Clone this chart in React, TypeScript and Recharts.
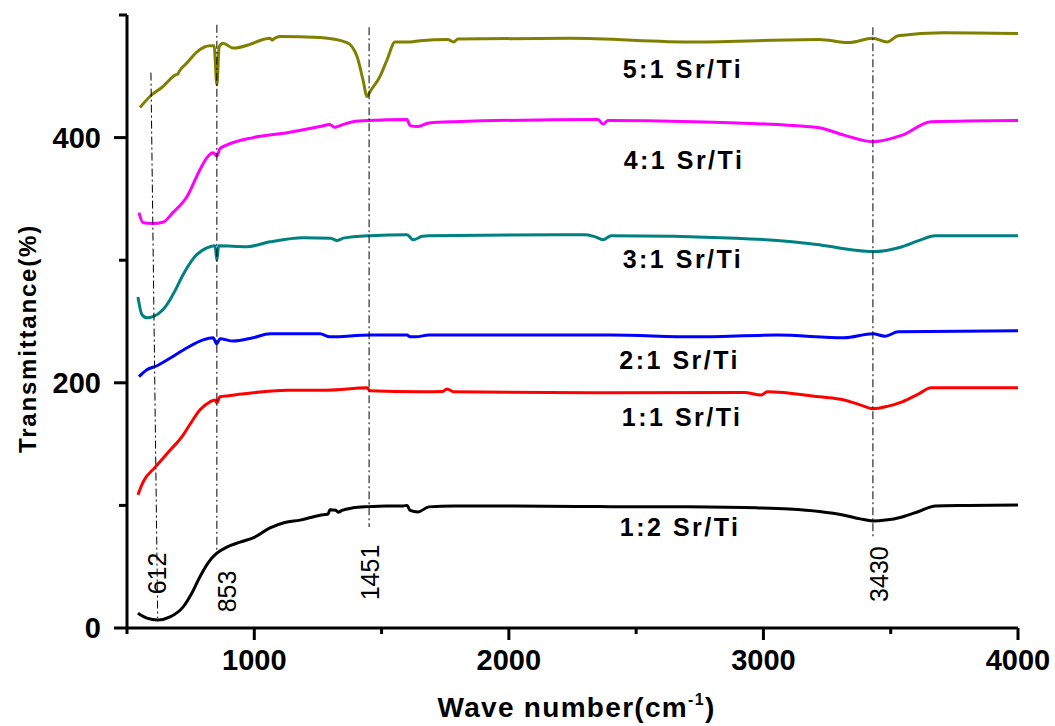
import React from 'react';
import { LineChart, Line, XAxis, YAxis, ReferenceLine, ReferenceDot } from 'recharts';

const FONT = '"Liberation Sans", Arial, sans-serif';

// ---- data: [wavenumber (cm-1), transmittance (%)] ----
const s12: [number, number][] = [
  [543, 12], [578, 8], [622, 6.5], [669, 9], [720, 17], [755, 28.5], [787, 42], [818, 53], [853, 61],
  [892, 66], [944, 70], [1000, 74], [1062, 81.6], [1120, 86], [1180, 88], [1258, 92], [1290, 93],
  [1297, 96.5], [1320, 96], [1330, 94.5], [1345, 96], [1388, 98], [1447, 99], [1520, 99.6], [1585, 99.6],
  [1600, 100], [1612, 96], [1643, 94.7], [1686, 98.8], [1783, 99.6], [2000, 99.5], [2402, 99], [2700, 98.8],
  [2973, 98], [3100, 97], [3219, 95], [3317, 92], [3380, 89], [3430, 87.3], [3480, 88], [3545, 90.6],
  [3610, 95], [3675, 99.6], [3800, 100], [4000, 100.4],
];
const s11: [number, number][] = [
  [543, 108.6], [563, 119], [610, 131], [669, 145], [716, 156], [747, 166], [787, 178], [826, 184.5],
  [845, 186], [853, 183.7], [865, 188.6], [900, 189.5], [995, 191.8], [1129, 194], [1286, 194], [1443, 195.9],
  [1455, 193.5], [1651, 192.7], [1740, 193], [1757, 195], [1783, 192.7], [2402, 191.8], [2925, 192],
  [2991, 190], [3015, 192.7], [3219, 188.6], [3317, 186], [3380, 182], [3430, 178.8], [3490, 181],
  [3545, 184.5], [3610, 191], [3659, 195.9], [4000, 195.9],
];
const s21: [number, number][] = [
  [547, 205], [578, 210.6], [618, 213.9], [669, 220], [736, 228.6], [799, 235], [838, 236.7], [853, 231.8],
  [865, 236], [917, 234], [995, 236.7], [1062, 240], [1258, 240], [1297, 237.5], [1455, 239], [1600, 239],
  [1612, 237.5], [1636, 237.5], [1686, 239], [2402, 239], [2728, 237.5], [3054, 239], [3317, 236.7],
  [3430, 240], [3478, 238], [3529, 241.6], [4000, 242.4],
];
const s31: [number, number][] = [
  [543, 270], [559, 255.5], [578, 253], [602, 254], [641, 259.6], [669, 267.8], [696, 278], [716, 286.5],
  [736, 293.9], [767, 303], [814, 310], [846, 311.8], [853, 300], [860, 311.8], [971, 311], [1062, 315],
  [1192, 318.4], [1300, 318], [1325, 316], [1350, 318], [1455, 320], [1600, 320.8], [1624, 316.7],
  [1660, 319.5], [1686, 320], [2303, 320.8], [2340, 319], [2370, 316.7], [2402, 320], [2893, 318],
  [3219, 312.6], [3345, 308.6], [3430, 307], [3545, 311], [3610, 316], [3675, 320], [4000, 320],
];
const s41: [number, number][] = [
  [547, 338.8], [563, 330.6], [602, 330], [641, 331], [681, 339], [736, 352], [787, 374], [814, 383.7],
  [838, 387.7], [853, 385], [865, 391], [893, 394], [995, 400], [1129, 404], [1258, 409], [1297, 410.6],
  [1315, 408.5], [1340, 410], [1388, 413], [1451, 414], [1600, 414.7], [1612, 409.8], [1643, 409],
  [1686, 412], [1783, 413], [2350, 414.7], [2370, 411], [2390, 414], [2728, 413], [3054, 410.6],
  [3219, 408], [3317, 402], [3430, 396.7], [3545, 402], [3659, 413], [4000, 414],
];
const s51: [number, number][] = [
  [551, 424.5], [590, 433.5], [641, 441.6], [689, 451], [700, 452], [705, 454], [736, 461], [775, 470],
  [826, 475], [842, 475], [853, 443], [862, 474], [877, 477], [917, 473], [983, 476], [1034, 480],
  [1062, 481], [1070, 479.5], [1080, 481], [1101, 482.5], [1258, 481.6], [1364, 477.5], [1404, 466],
  [1427, 447], [1443, 433.5], [1455, 437.6], [1494, 450], [1522, 463.7], [1553, 478], [1612, 478],
  [1651, 479], [1760, 480], [1783, 478], [1800, 480.5], [2240, 481], [2728, 478], [3219, 480],
  [3333, 477.5], [3430, 481], [3486, 478], [3529, 483], [3706, 485.6], [4000, 485],
];

const seriesData = [s12, s11, s21, s31, s41, s51];
const seriesNames = ['1:2 Sr/Ti', '1:1 Sr/Ti', '2:1 Sr/Ti', '3:1 Sr/Ti', '4:1 Sr/Ti', '5:1 Sr/Ti'];
const seriesColors = ['#000000', '#ff0000', '#0000ff', '#008080', '#ff00ff', '#808000'];
const seriesLabelX = [2673, 2681, 2671, 2684, 2688, 2684];
const seriesLabelY = [82, 172, 218.4, 301, 382, 456.3];

// peak markers
const peakNames = ['612', '853', '1451', '3430'];
const peakTopX = [594, 853, 1451, 3430];
const peakTopY = [453, 492, 490, 490];
const peakBottomX = [620.6, 853, 1451, 3430];
const peakBottomY = [8.2, 62, 82.4, 74];
const peakLabelX = [618, 893, 1455, 3455];
const peakLabelY = [44.5, 29.8, 45.3, 44];

// ticks
const xTicks = [500, 1000, 1500, 2000, 2500, 3000, 3500, 4000];
const xLabeled = [1000, 2000, 3000, 4000];
const yTicks = [0, 100, 200, 300, 400, 500];
const yLabeled = [0, 200, 400];

const BottomTick = (p: any) => {
  const v = p.payload.value;
  const major = xLabeled.includes(v);
  return (
    <g>
      <line x1={p.x} x2={p.x} y1={p.y} y2={p.y + (major ? 12 : 6)} stroke="#000" strokeWidth={3} />
      {major && (
        <text x={p.x} y={p.y + 42} textAnchor="middle" fontFamily={FONT} fontWeight="bold" fontSize={29} fill="#000">
          {v}
        </text>
      )}
    </g>
  );
};

const LeftTick = (p: any) => {
  const v = p.payload.value;
  const major = yLabeled.includes(v);
  return (
    <g>
      <line x1={p.x - (major ? 13 : 8)} x2={p.x} y1={p.y} y2={p.y} stroke="#000" strokeWidth={3} />
      {major && (
        <text x={p.x - 26} y={p.y} dy="0.36em" textAnchor="end" fontFamily={FONT} fontWeight="bold" fontSize={29} fill="#000">
          {v}
        </text>
      )}
    </g>
  );
};

const TopTick = (p: any) => (
  <line x1={p.x} x2={p.x} y1={p.y} y2={p.y + 4} stroke="#000" strokeWidth={1.5} />
);
const RightTick = (p: any) => (
  <line x1={p.x - 4} x2={p.x} y1={p.y} y2={p.y} stroke="#000" strokeWidth={1.5} />
);

const xTitle = (props: any) => {
  const vb = props.viewBox;
  return (
    <text x={vb.x + vb.width / 2 + 4} y={vb.y + 89} textAnchor="middle" fontFamily={FONT} fontWeight="bold" fontSize={28} letterSpacing={1.3} fill="#000">
      Wave number(cm
      <tspan fontSize={16} dy={-12}>-1</tspan>
      <tspan dy={12}>)</tspan>
    </text>
  );
};

const yTitle = (props: any) => {
  const vb = props.viewBox;
  const cx = vb.x - 40;
  const cy = vb.y + vb.height / 2 + 17;
  return (
    <text x={cx} y={cy} dy="0.36em" transform={`rotate(-90, ${cx}, ${cy})`} textAnchor="middle" fontFamily={FONT} fontWeight="bold" fontSize={24} letterSpacing={1.8} fill="#000">
      Transmittance(%)
    </text>
  );
};

const makeSeriesLabel = (text: string) => (p: any) => (
  <text x={p.cx} y={p.cy} dy="0.36em" textAnchor="middle" fontFamily={FONT} fontWeight="bold" fontSize={25} letterSpacing={2.5} fill="#000">
    {text}
  </text>
);

const makePeakLabel = (text: string) => (p: any) => (
  <text x={p.cx} y={p.cy} dy="0.36em" transform={`rotate(-90, ${p.cx}, ${p.cy})`} textAnchor="middle" fontFamily={FONT} fontSize={25} fill="#000">
    {text}
  </text>
);

export default function App() {
  return (
    <div style={{ position: 'absolute', left: 0, top: 0, background: '#fff' }}>
      <LineChart width={1055} height={726} margin={{ top: 15, right: 37, bottom: 68, left: 67 }}>
        <XAxis
          type="number"
          dataKey="x"
          domain={[500, 4000]}
          allowDataOverflow
          ticks={xTicks}
          interval={0}
          height={30}
          tickSize={0}
          tickMargin={0}
          tickLine={false}
          axisLine={{ stroke: '#000', strokeWidth: 3 }}
          tick={BottomTick}
          label={{ value: 'Wave number', content: xTitle }}
        />
        <XAxis
          xAxisId="top"
          orientation="top"
          type="number"
          dataKey="x"
          domain={[500, 4000]}
          allowDataOverflow
          ticks={xTicks}
          interval={0}
          height={0}
          tickSize={0}
          tickMargin={0}
          tickLine={false}
          axisLine={{ stroke: '#000', strokeWidth: 3 }}
          tick={TopTick}
        />
        <YAxis
          type="number"
          domain={[0, 500]}
          allowDataOverflow
          ticks={yTicks}
          interval={0}
          width={60}
          tickSize={0}
          tickMargin={0}
          tickLine={false}
          axisLine={{ stroke: '#000', strokeWidth: 3 }}
          tick={LeftTick}
          label={{ value: 'Transmittance(%)', content: yTitle }}
        />
        <YAxis
          yAxisId="right"
          orientation="right"
          type="number"
          domain={[0, 500]}
          allowDataOverflow
          ticks={yTicks}
          interval={0}
          width={0}
          tickSize={0}
          tickMargin={0}
          tickLine={false}
          axisLine={{ stroke: '#000', strokeWidth: 3 }}
          tick={RightTick}
        />
        {seriesData.map((s, i) => (
          <Line
            key={seriesNames[i]}
            name={seriesNames[i]}
            data={s.map(([x, y]) => ({ x, y }))}
            dataKey="y"
            type="monotone"
            stroke={seriesColors[i]}
            strokeWidth={3}
            dot={false}
            activeDot={false}
            isAnimationActive={false}
          />
        ))}
        {peakNames.map((n, i) => (
          <ReferenceLine
            key={'pl' + n}
            segment={[
              { x: peakTopX[i], y: peakTopY[i] },
              { x: peakBottomX[i], y: peakBottomY[i] },
            ]}
            stroke="#000"
            strokeWidth={1}
            strokeDasharray="8 3 2 3"
          />
        ))}
        {peakNames.map((n, i) => (
          <ReferenceDot key={'pt' + n} x={peakLabelX[i]} y={peakLabelY[i]} r={0} shape={makePeakLabel(n)} />
        ))}
        {seriesNames.map((n, i) => (
          <ReferenceDot key={'sl' + n} x={seriesLabelX[i]} y={seriesLabelY[i]} r={0} shape={makeSeriesLabel(n)} />
        ))}
      </LineChart>
    </div>
  );
}
